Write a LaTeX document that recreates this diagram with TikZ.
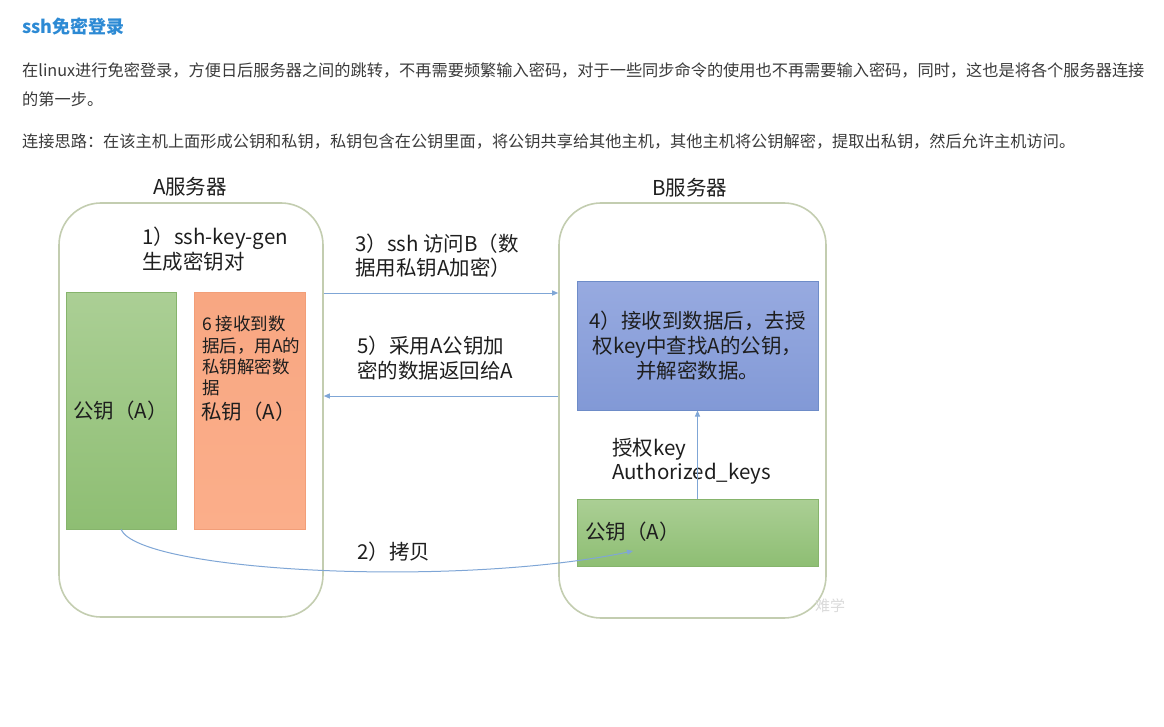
\documentclass[tikz,border=0pt]{standalone}
\usepackage{fontspec}
\setmainfont{Noto Sans CJK SC}
\usetikzlibrary{arrows.meta,calc}
\definecolor{titleblue}{HTML}{2D8AD4}
\definecolor{paratext}{HTML}{3A3A3A}
\definecolor{diagtext}{HTML}{1E1E1E}
\definecolor{srvborder}{HTML}{C3CDB0}
\definecolor{greentop}{HTML}{ABCF95}
\definecolor{greenbot}{HTML}{8EBE73}
\definecolor{greenline}{HTML}{86B46C}
\definecolor{orangetop}{HTML}{F8A782}
\definecolor{orangebot}{HTML}{FBAE8A}
\definecolor{orangeline}{HTML}{F29E78}
\definecolor{bluetop}{HTML}{97AAE0}
\definecolor{bluebot}{HTML}{8299D6}
\definecolor{blueline}{HTML}{6E8CC8}
\definecolor{arrowc}{HTML}{7FA6D6}
\definecolor{wmark}{HTML}{DADADA}
\tikzset{
  server/.style={draw=srvborder, line width=1.6pt, rounded corners=42pt, fill=white},
  greenbox/.style={draw=greenline, line width=0.8pt, top color=greentop, bottom color=greenbot},
  orangebox/.style={draw=orangeline, line width=0.8pt, top color=orangetop, bottom color=orangebot},
  bluebox/.style={draw=blueline, line width=1pt, top color=bluetop, bottom color=bluebot},
  conn/.style={draw=arrowc, line width=1pt, -{Triangle[length=6pt,width=5pt]}},
  lbl/.style={inner sep=0pt, anchor=west, text=diagtext, align=left, font=\fontsize{20.5}{24.5}\selectfont},
  para/.style={inner sep=0pt, anchor=west, text=paratext, font=\fontsize{16.2}{20}\selectfont},
}
\begin{document}
\begin{tikzpicture}[x=1pt,y=-1pt]
\useasboundingbox (0,0) rectangle (1164,727);
% header text
\node[inner sep=0pt, anchor=west, text=titleblue, font=\fontsize{18}{22}\selectfont\bfseries] (title) at (22,27) {ssh免密登录};
\node[para] (p1a) at (22,70) {在linux进行免密登录，方便日后服务器之间的跳转，不再需要频繁输入密码，对于一些同步命令的使用也不再需要输入密码，同时，这也是将各个服务器连接};
\node[para] (p1b) at (22,99) {的第一步。};
\node[para] (p2) at (22,141) {连接思路：在该主机上面形成公钥和私钥，私钥包含在公钥里面，将公钥共享给其他主机，其他主机将公钥解密，提取出私钥，然后允许主机访问。};
% servers
\node[server, minimum width=264pt, minimum height=414pt] (boxA) at (191,410) {};
\node[server, minimum width=267pt, minimum height=415pt] (boxB) at (692.5,410.5) {};
\node[inner sep=0pt, text=diagtext, font=\fontsize{20.5}{24}\selectfont] (titA) at (190,187) {A服务器};
\node[inner sep=0pt, text=diagtext, font=\fontsize{20.5}{24}\selectfont] (titB) at (690,188) {B服务器};
% A contents
\node[lbl] (step1) at (142,249) {1）ssh-key-gen\\生成密钥对};
\node[greenbox, minimum width=110pt, minimum height=237pt] (pubA) at (121,410.5) {};
\node[orangebox, minimum width=111pt, minimum height=237pt] (priA) at (249.5,410.5) {};
\node[lbl] (pubAt) at (73,411) {公钥（A）};
\node[lbl, font=\fontsize{17.5}{21.3}\selectfont] (step6) at (202,356) {6 接收到数\\据后，用A的\\私钥解密数\\据};
\node[lbl] (priAt) at (201,412) {私钥（A）};
% B contents
\node[bluebox, minimum width=241pt, minimum height=128pt, align=center, text=diagtext, font=\fontsize{20.5}{25}\selectfont] (decB) at (697.5,346) {4）接收到数据后，去授\\权key中查找A的公钥，\\并解密数据。};
\node[greenbox, minimum width=241pt, minimum height=67pt] (pubB) at (697.5,532.5) {};
\node[lbl] (pubBt) at (585,532) {公钥（A）};
\node[lbl] (authk) at (612,461.5) {授权key\\Authorized\_keys};
% middle labels
\node[lbl] (step3) at (355,255.5) {3）ssh 访问B（数\\据用私钥A加密）};
\node[lbl] (step5) at (357,358) {5）采用A公钥加\\密的数据返回给A};
\node[lbl] (step2) at (357,552) {2）拷贝};
\node[inner sep=0pt, anchor=west, text=wmark, font=\fontsize{15}{18}\selectfont] (wm) at (815,606) {难学};
% connectors
\draw[conn] (boxA.east |- 0,293) -- (boxB.west |- 0,293);
\draw[conn] (boxB.west |- 0,396) -- (boxA.east |- 0,396);
\draw[conn] (pubB.north) -- (decB.south);
\coordinate (copyend) at (633,551);
\draw[conn] (pubA.south) .. controls (140,572) and (455,588) .. (copyend);
\end{tikzpicture}
\end{document}
